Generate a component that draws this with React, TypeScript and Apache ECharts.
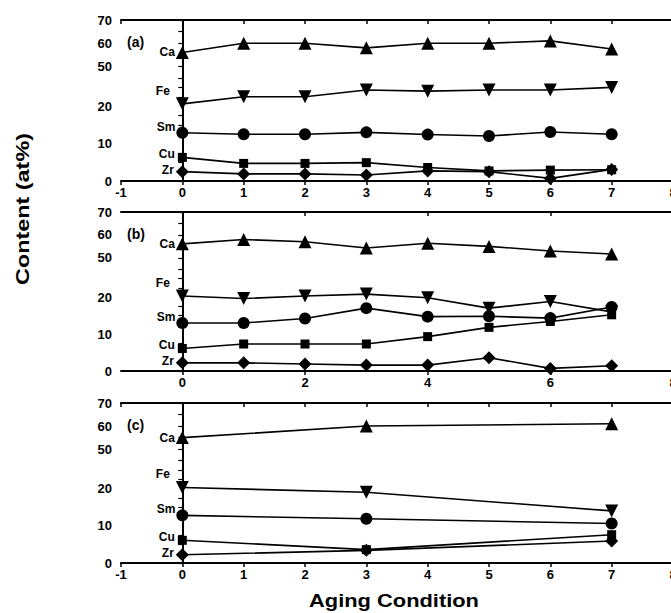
import React, { useEffect, useRef } from "react";
import * as echarts from "echarts";

// ---- data ----
const elements = ["Ca", "Fe", "Sm", "Cu", "Zr"];
const xAB = [0, 1, 2, 3, 4, 5, 6, 7];
const xC = [0, 3, 7];

const caA = [56, 60, 60, 58, 60, 60, 61, 57.5];
const feA = [20.6, 22.5, 22.5, 24.3, 24, 24.3, 24.3, 25];
const smA = [12.9, 12.5, 12.5, 13, 12.4, 12, 13.1, 12.5];
const cuA = [6.3, 4.7, 4.7, 4.9, 3.6, 2.7, 2.9, 3];
const zrA = [2.5, 1.9, 1.9, 1.6, 2.7, 2.5, 0.7, 3.1];

const caB = [56.1, 58, 57, 54.3, 56.4, 55, 53, 51.7];
const feB = [20.3, 19.6, 20.3, 20.8, 19.8, 17, 18.8, 16];
const smB = [13, 13, 14.2, 17, 14.7, 14.8, 14.3, 17.3];
const cuB = [6.1, 7.3, 7.3, 7.3, 9.3, 11.8, 13.4, 15.2];
const zrB = [2.2, 2.2, 1.9, 1.6, 1.6, 3.6, 0.7, 1.4];

const caC = [55, 60, 61];
const feC = [20.3, 19, 14];
const smC = [12.8, 11.9, 10.6];
const cuC = [6.1, 3.6, 7.6];
const zrC = [2.2, 3.4, 5.9];

const yTicks = [0, 10, 20, 50, 60, 70];
const xTicks = [-1, 0, 1, 2, 3, 4, 5, 6, 7, 8];
const xTicksB = [0, 2, 4, 6, 8];
const panelNames = ["(a)", "(b)", "(c)"];

// broken y axis: values below the break are linear, values from 50 up are compressed
const brk = (v: number) => (v < 40 ? v : 30.6 + (v - 50) * 0.62);

const panels = [
  { x: xAB, vals: [caA, feA, smA, cuA, zrA], labelTicks: xTicks, topTicks: xTicks },
  { x: xAB, vals: [caB, feB, smB, cuB, zrB], labelTicks: xTicksB, topTicks: xTicksB },
  { x: xC, vals: [caC, feC, smC, cuC, zrC], labelTicks: xTicks, topTicks: xTicks },
];

const symbols: any = {
  Ca: { symbol: "triangle", size: 13, rotate: 0, offset: [0, 0], dist: 1 },
  Fe: { symbol: "triangle", size: 13, rotate: 180, offset: [0, -13], dist: 6 },
  Sm: { symbol: "circle", size: 12, rotate: 0, offset: [0, -6], dist: 1 },
  Cu: { symbol: "rect", size: 9, rotate: 0, offset: [0, -3], dist: 3 },
  Zr: { symbol: "diamond", size: 13, rotate: 0, offset: [0, -2], dist: 2 },
};

const FONT = "'Liberation Sans', Arial, sans-serif";

export default function App() {
  const ref = useRef<HTMLDivElement>(null);
  useEffect(() => {
    if (!ref.current) return;
    const chart = echarts.init(ref.current, null, { renderer: "svg" });
    const tops = [20, 212, 403];
    const heights = [161, 159, 160];
    const grids = tops.map((t, i) => ({ left: 121, right: 7, top: t, height: heights[i] }));
    const yCustom = yTicks.map(brk);
    const yMinor = [0, 2.5, 5, 7.5, 12.5, 15, 17.5, 22.5, 25, 27.5, 50, 55, 60, 65, 70].map(brk);
    const xAxes: any[] = [];
    const yAxes: any[] = [];
    const series: any[] = [];
    panels.forEach((p, i) => {
      xAxes.push({
        type: "value",
        gridIndex: i,
        min: -1,
        max: 8,
        position: "bottom",
        splitLine: { show: false },
        axisLine: { lineStyle: { color: "#000", width: 2 } },
        axisTick: { customValues: p.labelTicks, length: 4, lineStyle: { color: "#000", width: 1.5 } },
        axisLabel: {
          customValues: p.labelTicks,
          color: "#000",
          fontSize: 13,
          fontWeight: "bold",
          fontFamily: FONT,
          margin: 5,
        },
      });
      xAxes.push({
        type: "value",
        gridIndex: i,
        min: -1,
        max: 8,
        position: "top",
        splitLine: { show: false },
        axisLine: { lineStyle: { color: "#000", width: 2 } },
        axisTick: { customValues: p.topTicks, inside: true, length: 4, lineStyle: { color: "#000", width: 1.5 } },
        axisLabel: { show: false },
      });
      yAxes.push({
        type: "value",
        gridIndex: i,
        min: 0,
        max: brk(70),
        splitLine: { show: false },
        axisLine: { lineStyle: { color: "#000", width: 2 } },
        axisTick: { customValues: yMinor, length: 4, lineStyle: { color: "#000", width: 1.2 } },
        axisLabel: {
          customValues: yCustom,
          color: "#000",
          fontSize: 13,
          fontWeight: "bold",
          fontFamily: FONT,
          margin: 9,
          formatter: (v: number) => {
            const k = yCustom.findIndex((c) => Math.abs(c - v) < 0.01);
            return k >= 0 ? String(yTicks[k]) : "";
          },
        },
      });
      elements.forEach((el, j) => {
        const s = symbols[el];
        series.push({
          type: "line",
          name: el,
          xAxisIndex: i * 2,
          yAxisIndex: i,
          symbol: s.symbol,
          symbolSize: s.size,
          symbolRotate: s.rotate,
          showAllSymbol: true,
          lineStyle: { color: "#000", width: 1.6 },
          itemStyle: { color: "#000" },
          data: p.x.map((x, k) => {
            const d: any = { value: [x, brk(p.vals[j][k])] };
            if (k === 0) {
              d.label = {
                show: true,
                position: "left",
                distance: s.dist,
                offset: s.offset,
                formatter: el,
                color: "#000",
                fontSize: 12,
                fontWeight: "bold",
                fontFamily: FONT,
              };
            }
            return d;
          }),
        });
      });
    });
    const graphic: any[] = panelNames.map((n, i) => ({
      type: "text",
      x: 127,
      y: tops[i] + 22,
      style: {
        text: n,
        fill: "#000",
        font: `bold 14px ${FONT}`,
        align: "left",
        verticalAlign: "middle",
        textAlign: "left",
        textVerticalAlign: "middle",
      },
    }));
    graphic.push({
      type: "text",
      x: 23,
      y: 209,
      rotation: Math.PI / 2,
      scaleX: 1.3,
      style: {
        text: "Content (at%)",
        fill: "#000",
        font: `bold 18px ${FONT}`,
        align: "center",
        verticalAlign: "middle",
        textAlign: "center",
        textVerticalAlign: "middle",
      },
    });
    graphic.push({
      type: "text",
      x: 394,
      y: 600,
      scaleX: 1.15,
      style: {
        text: "Aging Condition",
        fill: "#000",
        font: `bold 19px ${FONT}`,
        align: "center",
        verticalAlign: "middle",
        textAlign: "center",
        textVerticalAlign: "middle",
      },
    });
    chart.setOption({
      animation: false,
      backgroundColor: "#fff",
      grid: grids,
      xAxis: xAxes,
      yAxis: yAxes,
      series,
      graphic,
    });
    return () => chart.dispose();
  }, []);
  return (
    <div
      ref={ref}
      style={{ position: "fixed", left: 0, top: 0, width: 680, height: 613, background: "#fff" }}
    />
  );
}
